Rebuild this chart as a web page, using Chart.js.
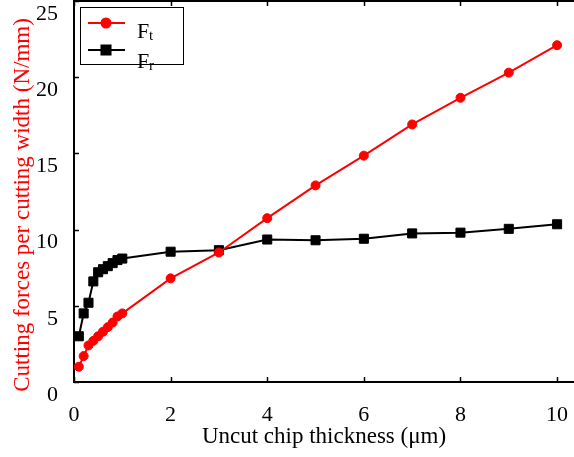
<!DOCTYPE html>
<html>
<head>
<meta charset="utf-8">
<script src="https://cdn.jsdelivr.net/npm/chart.js@4"></script>
<style>
  html, body { margin: 0; padding: 0; background: #fff; }
  #box { width: 574px; height: 457px; }
</style>
</head>
<body>
<div id="box"><canvas id="grafico" width="574" height="457"></canvas></div>
<script>
// espessura do cavaco (µm)
const espessura = [0.1, 0.2, 0.3, 0.4, 0.5, 0.6, 0.7, 0.8, 0.9, 1, 2, 3, 4, 5, 6, 7, 8, 9, 10];
// força tangencial Ft (N/mm)
const forcaFt = [1.0, 1.7, 2.4, 2.7, 3.0, 3.3, 3.6, 3.9, 4.3, 4.5, 6.8, 8.5, 10.75, 12.9, 14.85, 16.9, 18.65, 20.3, 22.1];
// força radial Fr (N/mm)
const forcaFr = [3.0, 4.5, 5.2, 6.6, 7.2, 7.4, 7.6, 7.8, 8.0, 8.1, 8.55, 8.65, 9.35, 9.3, 9.4, 9.75, 9.8, 10.05, 10.35];

const ticksX = [0, 2, 4, 6, 8, 10];
const ticksY = [0, 5, 10, 15, 20, 25];

const fonte = '"Liberation Serif", "Times New Roman", serif';

function pontos(xs, ys) {
    return xs.map((x, i) => ({ x: x, y: ys[i] }));
}

// marcas de escala para dentro + borda superior
const marcasInternas = {
    id: 'marcasInternas',
    afterDraw(chart) {
        const { ctx, chartArea: a, scales: { x, y } } = chart;
        ctx.save();
        ctx.strokeStyle = '#000';
        ctx.lineWidth = 2;
        ctx.beginPath();
        ctx.moveTo(a.left - 1, a.top);
        ctx.lineTo(a.right, a.top);
        ctx.stroke();
        ctx.lineWidth = 1.5;
        ctx.beginPath();
        ticksX.forEach(v => {
            const px = Math.round(x.getPixelForValue(v)) + 0.5;
            ctx.moveTo(px, a.bottom);
            ctx.lineTo(px, a.bottom - 5);
            ctx.moveTo(px, a.top);
            ctx.lineTo(px, a.top + 5);
        });
        ticksY.forEach(v => {
            const py = Math.round(y.getPixelForValue(v)) + 0.5;
            ctx.moveTo(a.left, py);
            ctx.lineTo(a.left + 5, py);
        });
        ctx.stroke();

        // título do eixo y (vermelho)
        ctx.fillStyle = '#ff0000';
        ctx.font = '23px ' + fonte;
        ctx.textAlign = 'center';
        ctx.textBaseline = 'middle';
        ctx.translate(23, 205);
        ctx.rotate(-Math.PI / 2);
        ctx.fillText('Cutting forces per cutting width (N/mm)', 0, 0);
        ctx.restore();
    }
};

// legenda no canto superior esquerdo
const legenda = {
    id: 'legenda',
    afterDraw(chart) {
        const ctx = chart.ctx;
        const ds = chart.data.datasets;
        ctx.save();
        ctx.fillStyle = '#fff';
        ctx.fillRect(80.5, 7.5, 103, 57);
        ctx.strokeStyle = '#000';
        ctx.lineWidth = 1;
        ctx.strokeRect(80.5, 7.5, 103, 57);

        const linhas = [
            { d: ds[0], y: 23, sub: 't', base: 38 },
            { d: ds[1], y: 50, sub: 'r', base: 68 }
        ];
        linhas.forEach(l => {
            ctx.strokeStyle = l.d.borderColor;
            ctx.lineWidth = 2;
            ctx.beginPath();
            ctx.moveTo(88, l.y);
            ctx.lineTo(125, l.y);
            ctx.stroke();
            Chart.helpers.drawPoint(ctx, {
                pointStyle: l.d.pointStyle,
                radius: l.d.pointRadius,
                borderWidth: 1
            }, 106, l.y);
            ctx.fillStyle = l.d.borderColor;
            ctx.fill();

            ctx.fillStyle = '#000';
            ctx.textAlign = 'left';
            ctx.textBaseline = 'alphabetic';
            ctx.font = '22px ' + fonte;
            ctx.fillText('F', 137, l.base);
            ctx.font = '15px ' + fonte;
            ctx.fillText(l.sub, 149, l.base + 2);
        });
        ctx.restore();
    }
};

new Chart(document.getElementById('grafico'), {
    type: 'line',
    data: {
        datasets: [
            {
                label: 'Ft',
                data: pontos(espessura, forcaFt),
                borderColor: '#ff0000',
                backgroundColor: '#ff0000',
                pointBackgroundColor: '#ff0000',
                borderWidth: 2,
                pointStyle: 'circle',
                pointRadius: 4.5,
                pointBorderWidth: 1
            },
            {
                label: 'Fr',
                data: pontos(espessura, forcaFr),
                borderColor: '#000000',
                backgroundColor: '#000000',
                pointBackgroundColor: '#000000',
                borderWidth: 2,
                pointStyle: 'rect',
                pointRadius: 6.4,
                pointBorderWidth: 1
            }
        ]
    },
    options: {
        responsive: false,
        animation: false,
        devicePixelRatio: 1,
        clip: false,
        layout: { autoPadding: false, padding: { top: 1, left: 0, right: 0, bottom: 0 } },
        plugins: {
            legend: { display: false },
            tooltip: { enabled: false }
        },
        scales: {
            x: {
                type: 'linear',
                min: 0,
                max: 10.35,
                afterBuildTicks: s => { s.ticks = ticksX.map(v => ({ value: v })); },
                afterFit: s => {
                    s.height = 75;
                    s.paddingLeft = 0;
                    s.paddingRight = 0;
                },
                grid: { display: false },
                border: { display: true, color: '#000', width: 2 },
                ticks: {
                    color: '#000',
                    padding: 12,
                    maxRotation: 0,
                    font: { family: fonte, size: 22, lineHeight: 1.2 }
                },
                title: {
                    display: true,
                    text: 'Uncut chip thickness (μm)',
                    color: '#000',
                    font: { family: fonte, size: 23, lineHeight: 1.2 },
                    padding: { top: 0, bottom: 6 }
                }
            },
            y: {
                min: 0,
                max: 25,
                afterBuildTicks: s => { s.ticks = ticksY.map(v => ({ value: v })); },
                afterFit: s => {
                    s.width = 74;
                    s.paddingTop = 0;
                    s.paddingBottom = 0;
                },
                grid: { display: false },
                border: { display: true, color: '#000', width: 2 },
                ticks: {
                    color: '#000',
                    padding: 8,
                    labelOffset: 13,
                    font: { family: fonte, size: 22, lineHeight: 1.2 }
                }
            }
        }
    },
    plugins: [marcasInternas, legenda]
});
</script>
</body>
</html>
